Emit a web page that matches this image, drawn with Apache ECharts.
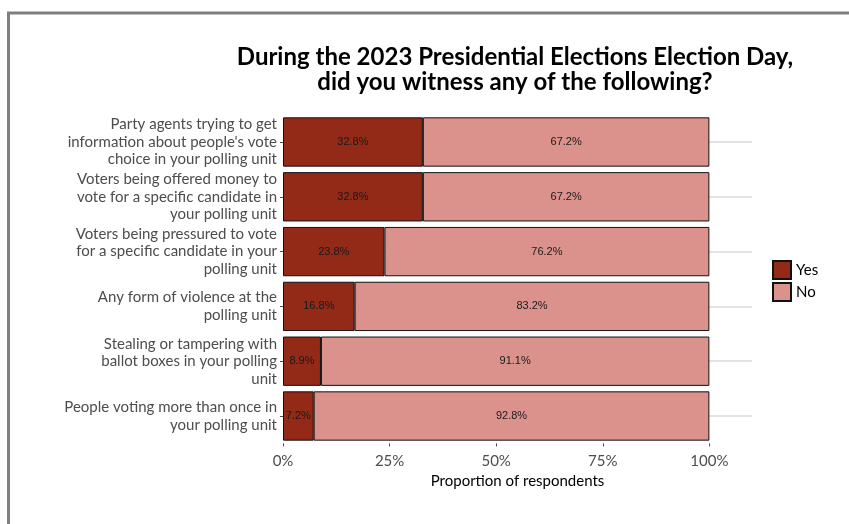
<!DOCTYPE html>
<html>
<head>
<meta charset="utf-8">
<script src="https://cdn.jsdelivr.net/npm/echarts@6/dist/echarts.min.js"></script>
<style>html,body{margin:0;padding:0;background:#fff;}#c{width:849px;height:524px;}</style>
</head>
<body>
<div id="c"></div>
<script>
var categories = [
  "Party agents trying to get\ninformation about people's vote\nchoice in your polling unit",
  "Voters being offered money to\nvote for a specific candidate in\nyour polling unit",
  "Voters being pressured to vote\nfor a specific candidate in your\npolling unit",
  "Any form of violence at the\npolling unit",
  "Stealing or tampering with\nballot boxes in your polling\nunit",
  "People voting more than once in\nyour polling unit"
];
var yesValues = [32.8, 32.8, 23.8, 16.8, 8.9, 7.2];
var noValues = [67.2, 67.2, 76.2, 83.2, 91.1, 92.8];
var xTicks = [0, 25, 50, 75, 100];
var titleText = "During the 2023 Presidential Elections Election Day,\ndid you witness any of the following?";

var chart = echarts.init(document.getElementById('c'));
var labelStyle = {
  show: true, position: 'inside', color: '#1a1a1a',
  fontFamily: 'Liberation Sans, Arial, sans-serif', fontSize: 11,
  formatter: function (p) { return p.value.toFixed(1) + '%'; }
};
chart.setOption({
  animation: false,
  backgroundColor: '#ffffff',
  title: {
    text: titleText, left: 515, top: 45, textAlign: 'center', padding: 0,
    textStyle: { fontFamily: 'Lato, sans-serif', fontWeight: 'bold', fontSize: 24, color: '#000', lineHeight: 25 }
  },
  graphic: [{
    type: 'rect', silent: true, z: -10,
    shape: { x: 8.5, y: 13, width: 900, height: 700 },
    style: { fill: 'none', stroke: '#808080', lineWidth: 3 }
  }],
  legend: {
    orient: 'vertical', left: 772, top: 260, itemWidth: 18, itemHeight: 18, itemGap: 2, padding: 0,
    data: ['Yes', 'No'],
    textStyle: { fontFamily: 'Lato, sans-serif', fontSize: 15, color: '#000' },
    icon: 'rect'
  },
  grid: { left: 283, right: 97, top: 114.6, bottom: 80.6, containLabel: false },
  xAxis: {
    type: 'value', min: 0, max: 110,
    name: 'Proportion of respondents', nameLocation: 'middle', nameGap: 29,
    nameTextStyle: { fontFamily: 'Lato, sans-serif', fontSize: 15, color: '#000' },
    axisLine: { show: false },
    axisTick: { show: true, length: 3, customValues: xTicks, lineStyle: { color: '#4d4d4d' } },
    axisLabel: { customValues: xTicks, formatter: '{value}%', margin: 10,
      fontFamily: 'Lato, sans-serif', fontSize: 15, color: '#4d4d4d' },
    splitLine: { show: false }
  },
  yAxis: {
    type: 'category', data: categories, inverse: true,
    axisLine: { show: false },
    axisTick: { show: true, alignWithLabel: true, length: 3, lineStyle: { color: '#4d4d4d' } },
    axisLabel: { margin: 6, fontFamily: 'Lato, sans-serif', fontSize: 15, color: '#4d4d4d', lineHeight: 17.5, align: 'right' },
    splitLine: { show: false }
  },
  series: [
    {
      name: 'Yes', type: 'bar', stack: 'a', data: yesValues, barWidth: '90%',
      itemStyle: { color: '#922a17', borderColor: '#111', borderWidth: 1 },
      label: labelStyle, z: 3,
      markLine: {
        silent: true, symbol: 'none', label: { show: false }, z: 1,
        lineStyle: { color: '#dadada', width: 1.5, type: 'solid' },
        data: categories.map(function (c) { return { yAxis: c }; })
      }
    },
    {
      name: 'No', type: 'bar', stack: 'a', data: noValues, barWidth: '90%',
      itemStyle: { color: '#db928d', borderColor: '#111', borderWidth: 1 },
      label: labelStyle, z: 3
    }
  ]
});
</script>
</body>
</html>
